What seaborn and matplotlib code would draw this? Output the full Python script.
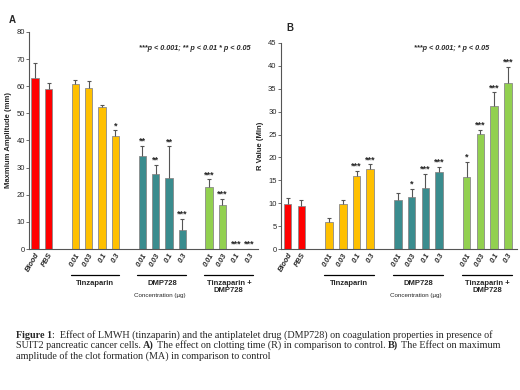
import numpy as np
import pandas as pd
import matplotlib
matplotlib.use('Agg')
import matplotlib.pyplot as plt
import matplotlib.transforms as mtransforms
import seaborn as sns

# ---- data ----
order = ['Blood', 'PBS', 'gap1',
         'T 0.01', 'T 0.03', 'T 0.1', 'T 0.3', 'gap2',
         'D 0.01', 'D 0.03', 'D 0.1', 'D 0.3', 'gap3',
         'C 0.01', 'C 0.03', 'C 0.1', 'C 0.3']
tick_text = ['Blood', 'PBS', '',
             '0.01', '0.03', '0.1', '0.3', '',
             '0.01', '0.03', '0.1', '0.3', '',
             '0.01', '0.03', '0.1', '0.3']
bar_cats = [c for c in order if not c.startswith('gap')]
groups = ['Control'] * 2 + ['Tinzaparin'] * 4 + ['DMP728'] * 4 + ['Combo'] * 4

ma_mean = [63.2, 59.1, 60.9, 59.5, 52.2, 41.5, 34.4, 27.7, 26.2, 7.0, 22.7, 16.3, 0.0, 0.0]
ma_err = [5.2, 2.1, 1.4, 2.4, 1.0, 2.3, 3.6, 3.3, 11.6, 4.1, 3.0, 2.3, 0.0, 0.0]
ma_stars = ['', '', '', '', '', '*', '**', '**', '**', '***', '***', '***', '***', '***']

r_mean = [9.8, 9.4, 5.9, 9.9, 15.9, 17.5, 10.7, 11.3, 13.3, 16.8, 15.8, 25.1, 31.3, 36.3]
r_err = [1.3, 1.3, 0.8, 0.8, 1.2, 1.0, 1.6, 1.9, 3.1, 1.1, 3.2, 0.9, 2.9, 3.5]
r_stars = ['', '', '', '', '***', '***', '', '*', '***', '***', '*', '***', '***', '***']

palette = {'Control': '#FF0000', 'Tinzaparin': '#FFC000',
           'DMP728': '#3A8C8E', 'Combo': '#92D050'}
group_names = ['Tinzaparin', 'DMP728', 'Tinzaparin +\nDMP728']
group_members = [['T 0.01', 'T 0.3'], ['D 0.01', 'D 0.3'], ['C 0.01', 'C 0.3']]

# caption: (text, bold) pieces per line
caption_lines = [
    [('Figure 1', True), (':  Effect of LMWH (tinzaparin) and the antiplatelet drug (DMP728) on coagulation properties in presence of', False)],
    [('SUIT2 pancreatic cancer cells. ', False), ('A)', True),
     (' The effect on clotting time (R) in comparison to control. ', False), ('B)', True),
     (' The Effect on maximum', False)],
    [('amplitude of the clot formation (MA) in comparison to control', False)],
]

df = pd.DataFrame({'cat': bar_cats, 'group': groups,
                   'ma': ma_mean, 'ma_err': ma_err,
                   'r': r_mean, 'r_err': r_err})

sns.set_style('white')
plt.rcParams['font.family'] = ['Liberation Sans', 'DejaVu Sans']

fig = plt.figure(figsize=(5.2, 3.9), dpi=100, facecolor='white')
axA = fig.add_axes([0.056, 0.3615, 0.44, 0.5565])
axB = fig.add_axes([0.540, 0.3615, 0.454, 0.5285])


def offset_trans(ax, dy_pt):
    return ax.get_xaxis_transform() + mtransforms.ScaledTranslation(0, -dy_pt / 72, fig.dpi_scale_trans)


def draw_panel(ax, col, ecol, stars, ylim, yticks, ylabel, xlim):
    sns.barplot(data=df, x='cat', y=col, hue='group', order=order, palette=palette,
                dodge=False, width=0.55, edgecolor='#8a8a8a', linewidth=0.6,
                errorbar=None, legend=False, saturation=1, ax=ax)
    xs = [order.index(c) for c in bar_cats]
    _, caps, _ = ax.errorbar(xs, df[col], yerr=[np.zeros(len(xs)), df[ecol]], fmt='none',
                             ecolor='#555555', elinewidth=0.8, capsize=1.5, capthick=0.8)
    caps[0].set_visible(False)
    for x, top, s in zip(xs, df[col] + df[ecol], stars):
        if s:
            ax.annotate(s, (x, top), xytext=(0, 0), textcoords='offset points',
                        ha='center', va='bottom', fontsize=6.5, fontweight='bold')
    ax.set_ylim(*ylim)
    ax.set_yticks(yticks)
    ax.set_xlim(*xlim)
    ax.set_xticks(range(len(order)))
    ax.set_xticklabels(tick_text, rotation=60, ha='right', rotation_mode='anchor',
                       fontsize=5.3, fontstyle='italic', fontweight='bold')
    ax.tick_params(axis='x', length=0, pad=2)
    ax.tick_params(axis='y', length=2, width=0.6, labelsize=5.5, pad=1, left=True, color='#555555')
    for lab in ax.get_yticklabels():
        lab.set_fontstretch('condensed')
    ax.set_xlabel('')
    ax.set_ylabel(ylabel, fontsize=5.5, fontweight='bold', labelpad=3)
    sns.despine(ax=ax)
    for sp in ['left', 'bottom']:
        ax.spines[sp].set_color('#555555')
        ax.spines[sp].set_linewidth(0.8)

    # group lines and names
    for name, (a, b) in zip(group_names, group_members):
        x0, x1 = order.index(a) - 0.35, order.index(b) + 0.3
        ax.plot([x0, x1], [0, 0], color='black', lw=0.9, clip_on=False,
                transform=offset_trans(ax, 19))
        ax.text((x0 + x1) / 2, 0, name, ha='center', va='top', fontsize=5.5,
                fontweight='bold', linespacing=1.1, transform=offset_trans(ax, 22))
    mid = (order.index('D 0.01') + order.index('D 0.3')) / 2 - 0.2
    ax.text(mid, 0, 'Concentration (\u00b5g)', ha='center', va='top', fontsize=4.5,
            fontstretch='condensed', transform=offset_trans(ax, 32))


draw_panel(axA, 'ma', 'ma_err', ma_stars, (0, 80), range(0, 81, 10),
           'Maxmium Amplitude (mm)', (-0.45, 16.65))
draw_panel(axB, 'r', 'r_err', r_stars, (0, 45), range(0, 46, 5),
           'R Value (Min)', (-0.5, 16.65))

fig.text(12 / 520, 1 - 20 / 390, 'A', fontsize=7, fontweight='bold', ha='center', va='center')
fig.text(290 / 520, 1 - 28 / 390, 'B', fontsize=7, fontweight='bold', ha='center', va='center')
fig.text(195 / 520, 1 - 48 / 390, '***p < 0.001; ** p < 0.01 * p < 0.05', fontsize=5.2,
         fontweight='bold', fontstyle='italic', ha='center', va='center')
fig.text(452 / 520, 1 - 49 / 390, '***p < 0.001; * p < 0.05', fontsize=5.2,
         fontweight='bold', fontstyle='italic', ha='center', va='center')

# caption, pieces laid side by side using measured widths
cap_kw = dict(fontsize=7.3, family=['Liberation Serif', 'DejaVu Serif'], ha='left', va='baseline')
renderer = fig.canvas.get_renderer()


def text_width(s, bold=False):
    t = fig.text(0, 0, s, fontweight='bold' if bold else 'normal', **cap_kw)
    w = t.get_window_extent(renderer).width
    t.remove()
    return w


space_w = text_width('a a') - text_width('aa')
for i, line in enumerate(caption_lines):
    x = 16.0
    y = 1 - (337.5 + 10.5 * i) / 390
    for txt, bold in line:
        x += (len(txt) - len(txt.lstrip(' '))) * space_w
        core = txt.strip(' ')
        t = fig.text(x / 520, y, core, fontweight='bold' if bold else 'normal', **cap_kw)
        x += t.get_window_extent(renderer).width
        x += (len(txt) - len(txt.rstrip(' '))) * space_w

fig.savefig('out.png', dpi=100, facecolor='white')
